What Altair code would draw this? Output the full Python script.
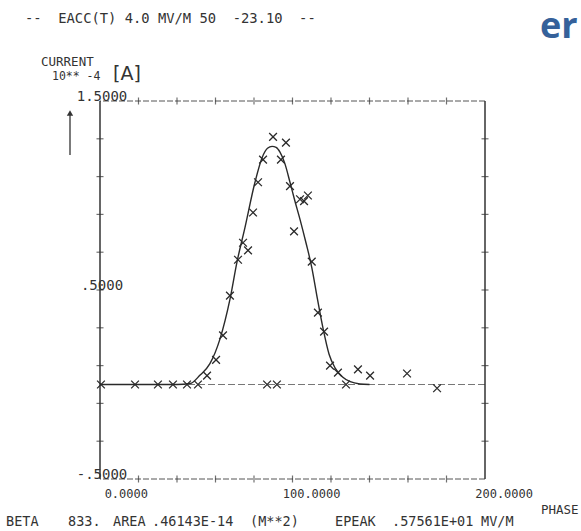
import altair as alt
import pandas as pd

# ---------------- data ----------------
# measured points (x marks)
pts_x = [0.5, 18.2, 30.1, 37.9, 45.2, 50.9, 86.8, 91.9, 127.8, 175.1,
         55.6, 60.3, 63.9, 67.5, 71.7, 74.3, 76.9, 79.5, 82.1, 84.7,
         89.9, 94.0, 96.6, 98.7, 100.8, 103.9, 106.0, 108.0, 110.0, 113.2,
         116.4, 119.5, 123.6, 134.0, 140.3, 159.5]
pts_y = [0.0, 0.0, 0.0, 0.0, 0.0, 0.0, 0.0, 0.0, 0.0, -0.02,
         0.047, 0.13, 0.26, 0.47, 0.66, 0.75, 0.71, 0.91, 1.07, 1.19,
         1.31, 1.19, 1.28, 1.05, 0.81, 0.98, 0.97, 1.0, 0.65, 0.38,
         0.28, 0.10, 0.063, 0.08, 0.047, 0.058]

# fitted curve
curve_x = [0, 40, 46.8, 52, 57.1, 62.3, 67.5, 71.2, 75.3, 80.5, 84.2, 87, 89.4,
           91.5, 93.5, 96, 98.7, 101, 104, 107, 110, 113, 116, 119, 122, 126, 130, 135, 140]
curve_y = [0, 0, 0.005, 0.05, 0.11, 0.24, 0.45, 0.65, 0.83, 1.07, 1.20, 1.25, 1.26,
           1.255, 1.23, 1.17, 1.07, 0.98, 0.87, 0.75, 0.62, 0.45, 0.29, 0.16, 0.09,
           0.04, 0.015, 0.003, 0]

x_tick_vals = [0, 100, 200]
x_tick_labels = ["0.0000", "100.0000", "200.0000"]
y_tick_vals = [1.5, 0.5, -0.5]
y_tick_labels = ["1.5000", ".5000", "-.5000"]
x_minor = [20, 40, 60, 80, 100, 120, 140, 160, 180]
y_minor = [-0.3, -0.1, 0.1, 0.3, 0.5, 0.7, 0.9, 1.1, 1.3]

NB = "\u00a0"
title_text = f"--{NB}{NB}EACC(T){NB}4.0{NB}MV/M{NB}50{NB}{NB}-23.10{NB}{NB}--"
bottom_parts = ["BETA", "833.", "AREA", ".46143E-14", "(M**2)", "EPEAK", ".57561E+01", "MV/M"]

# ---------------- chart ----------------
W, H = 385, 378
INK = "#333333"
MONO = "DejaVu Sans Mono"

xs = alt.Scale(domain=[0, 200], nice=False, zero=False)
ys = alt.Scale(domain=[-0.5, 1.5], nice=False, zero=False)

pts = pd.DataFrame({"x": pts_x, "y": pts_y})
curve = pd.DataFrame({"x": curve_x, "y": curve_y})
one = pd.DataFrame({"a": [0]})

X = lambda f="x": alt.X(f"{f}:Q", scale=xs, axis=None)
Y = lambda f="y": alt.Y(f"{f}:Q", scale=ys, axis=None)

side = alt.Chart(pd.DataFrame({"x": [0, 200]})).mark_rule(color=INK, strokeWidth=1.5).encode(x=X())
topbot = alt.Chart(pd.DataFrame({"y": [-0.5, 1.5]})).mark_rule(
    color="#555555", strokeWidth=1, strokeDash=[6, 2]).encode(y=Y())
base = alt.Chart(pd.DataFrame({"y": [0]})).mark_rule(
    color="#777777", strokeWidth=1, strokeDash=[7, 3]).encode(y=Y())

xt = pd.DataFrame([(v, e) for v in x_minor for e in (-0.5, 1.5)], columns=["x", "y"])
xticks = alt.Chart(xt).mark_tick(orient="vertical", size=7, thickness=1.2, color=INK).encode(x=X(), y=Y())
yt = pd.DataFrame([(e, v) for v in y_minor for e in (0, 200)], columns=["x", "y"])
yticks = alt.Chart(yt).mark_tick(orient="horizontal", size=7, thickness=1.2, color=INK).encode(x=X(), y=Y())

line = alt.Chart(curve).mark_line(color="#2a2a2a", strokeWidth=1.4, interpolate="monotone").encode(
    x=X(), y=Y())
marks = alt.Chart(pts).mark_point(
    shape="M-1,-1L1,1M-1,1L1,-1", size=60, filled=False, color="#2a2a2a", strokeWidth=1.3, opacity=1
).encode(x=X(), y=Y())

xlab = alt.Chart(pd.DataFrame({"v": x_tick_vals, "t": x_tick_labels})).mark_text(
    align="right", baseline="alphabetic", dx=48, font=MONO, fontSize=12, color=INK
).encode(x=X("v"), y=alt.value(H + 19), text="t:N")
ylab = alt.Chart(pd.DataFrame({"v": y_tick_vals, "t": y_tick_labels})).mark_text(
    align="center", baseline="alphabetic", font=MONO, fontSize=14, color=INK
).encode(x=alt.value(2), y=Y("v"), text="t:N")


def txt(s, x, y, size=13, font=MONO, color=INK, weight="normal", align="left"):
    return alt.Chart(one).mark_text(
        align=align, baseline="alphabetic", font=font, fontSize=size, color=color, fontWeight=weight
    ).encode(x=alt.value(x), y=alt.value(y), text=alt.value(s))


OX, OY = 100, 101  # plot origin in the page
texts = [
    txt(title_text, 25 - OX, 23 - OY, size=13.8),
    txt("CURRENT", 41 - OX, 66 - OY, size=12.5),
    txt(f"10**{NB}-4", 52 - OX, 80 - OY, size=11.5),
    txt("[A]", 113 - OX, 80 - OY, size=19, font="DejaVu Sans"),
    txt("er", 540 - OX, 38 - OY, size=36, font="Open Sans", color="#35619a", weight="bold"),
    txt("PHASE", 541 - OX, 514 - OY, size=12.5),
]
bx = [6, 68, 113, 152, 250, 335, 392, 481]
for s, x in zip(bottom_parts, bx):
    texts.append(txt(s, x - OX, 526 - OY, size=13.5))

arrow_line = alt.Chart(one).mark_rule(color=INK, strokeWidth=1.3).encode(
    x=alt.value(70 - OX), y=alt.value(112 - OY), y2=alt.value(155 - OY))
arrow_head = alt.Chart(one).mark_point(shape="triangle-up", size=40, filled=True, color=INK, opacity=1).encode(
    x=alt.value(70 - OX), y=alt.value(113 - OY))

chart = alt.layer(
    base, topbot, side, xticks, yticks, line, marks, xlab, ylab, arrow_line, arrow_head, *texts
).properties(
    width=W, height=H,
    padding={"left": OX, "top": OY, "right": 581 - OX - W, "bottom": 531 - OY - H},
    autosize=alt.AutoSizeParams(type="none"),
    background="white",
).configure_view(stroke=None)

chart.save("out.html", embed_options={"renderer": "svg", "actions": False})
